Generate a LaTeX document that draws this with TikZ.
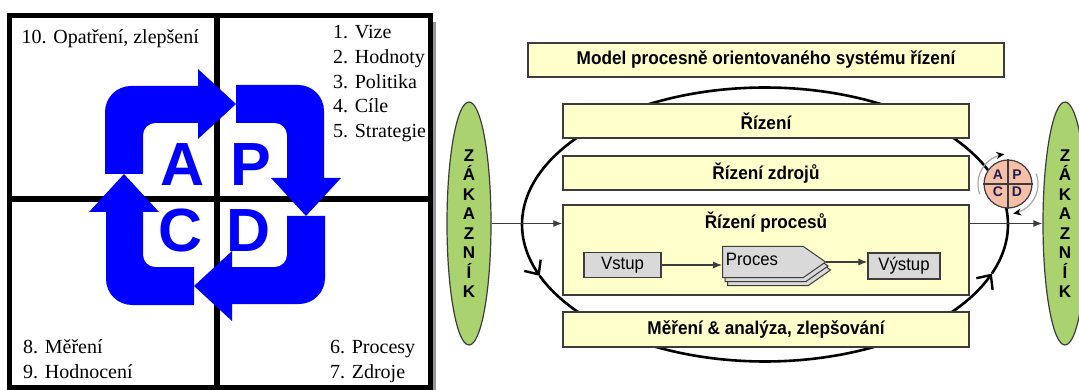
\documentclass[tikz,border=0pt]{standalone}
\usepackage{fontspec}
\setmainfont{Liberation Serif}
\newfontfamily\sansf{Liberation Sans}
\newfontfamily\narf[FakeStretch=0.93]{Liberation Sans}
\usetikzlibrary{arrows.meta,shapes.geometric,shapes.symbols,shadows}
\definecolor{pblue}{RGB}{0,0,255}
\definecolor{boxyel}{RGB}{255,255,204}
\definecolor{zgreen}{RGB}{170,210,110}
\definecolor{edgegray}{RGB}{60,60,60}
\definecolor{apcdfill}{RGB}{246,192,168}
\definecolor{navy}{RGB}{30,30,80}
\definecolor{procgray}{RGB}{217,217,217}
\definecolor{shadowgray}{RGB}{150,150,150}
\tikzset{
  lefttxt/.style={anchor=base west,inner sep=0pt,font=\fontsize{20}{24}\selectfont},
  bigletter/.style={inner sep=0pt,text=pblue,font=\sansf\bfseries\fontsize{61}{61}\selectfont},
  ybox/.style={draw=edgegray,line width=1.5pt,fill=boxyel,minimum width=406pt,inner sep=0pt,
     font=\narf\bfseries\fontsize{18.5}{20}\selectfont},
  gbox/.style={draw=edgegray,line width=1.3pt,fill=procgray,inner sep=0pt,
     font=\narf\fontsize{18}{20}\selectfont},
  zak/.style={ellipse,draw=edgegray,line width=1.2pt,fill=zgreen,minimum width=44pt,minimum height=243pt,
     inner sep=0pt,align=center,font=\sansf\bfseries\fontsize{17}{19.5}\selectfont},
  conn/.style={line width=1.2pt,draw=edgegray,-{Latex[length=9pt,width=7pt]}},
  cyc/.style={line width=2.6pt,black,-{Straight Barb[length=11pt,width=20pt,line width=2.4pt]}},
  apcdletter/.style={inner sep=0pt,text=navy,font=\sansf\bfseries\fontsize{14}{14}\selectfont},
  turn/.style={line width=1.2pt,draw=gray!70,-{Stealth[length=8pt,width=7pt,black]}}
}
\begin{document}
\begin{tikzpicture}[x=1pt,y=-1pt]
\useasboundingbox (0,0) rectangle (1079,390);
% ---------- left panel ----------
\fill[shadowgray] (16,22) rectangle (436,396);
\draw[line width=5pt,fill=white] (9.5,15.5) rectangle (430,387.5);
\draw[line width=6pt] (216.5,15.5) -- (216.5,387.5);
\draw[line width=6pt] (9.5,199.5) -- (430,199.5);
\begin{scope}[shift={(215,195)}]
\foreach \r in {0,-90,-180,-270}{
  \fill[pblue,rotate=\r] (-110,-21) -- (-110,-83) .. controls (-110,-97.4) and (-98.4,-109) .. (-84,-109)
    -- (-17,-109) -- (-17,-126) -- (21,-91) -- (-17,-56) -- (-17,-72) -- (-60,-72)
    .. controls (-66.6,-72) and (-72,-66.6) .. (-72,-60) -- (-72,-21) -- cycle;
}
\end{scope}
\node[bigletter] (bA) at (183,165) {A};
\node[bigletter] (bP) at (251,165) {P};
\node[bigletter] (bC) at (181,231) {C};
\node[bigletter] (bD) at (249,231) {D};
\node[lefttxt] (t10) at (21.5,43.5) {10. Opatření, zlepšení};
\node[lefttxt] (t1) at (333,39) {1. Vize};
\node[lefttxt] (t2) at (333,63.6) {2. Hodnoty};
\node[lefttxt] (t3) at (333,88.2) {3. Politika};
\node[lefttxt] (t4) at (333,112.8) {4. Cíle};
\node[lefttxt] (t5) at (333,137.4) {5. Strategie};
\node[lefttxt] (t8) at (23,353) {8. Měření};
\node[lefttxt] (t9) at (23,378) {9. Hodnocení};
\node[lefttxt] (t6) at (330,353) {6. Procesy};
\node[lefttxt] (t7) at (330,378) {7. Zdroje};
% ---------- right panel ----------
\draw[cyc] plot[domain=-21:202,samples=140] ({765+243*cos(\x)},{224.5-137*sin(\x)});
\draw[cyc] plot[domain=202:339,samples=90] ({765+243*cos(\x)},{224.5-137*sin(\x)});
\node[ybox,minimum width=476pt,minimum height=34pt] (title) at (766,60) {Model procesně orientovaného systému řízení};
\node[ybox,minimum height=34pt] (riz1) at (766,121) {Řízení};
\node[ybox,minimum height=34pt] (riz2) at (766,173) {Řízení zdrojů};
\node[ybox,minimum height=90pt] (riz3) at (766,250) {};
\node[ybox,draw=none,fill=none] (riz3t) at (766,222) {Řízení procesů};
\node[ybox,minimum height=35pt] (riz4) at (766,329.5) {Měření \& analýza, zlepšování};
\node[gbox,minimum width=77pt,minimum height=25pt] (vstup) at (622.5,265) {Vstup};
\node[gbox,minimum width=72pt,minimum height=26pt] (vystup) at (904,266) {Výstup};
\node[signal,signal to=east,signal pointer angle=70,draw=edgegray,line width=1pt,fill=procgray,
  minimum width=103pt,minimum height=31pt,inner sep=0pt,
  double copy shadow={shadow xshift=2.5pt,shadow yshift=-4pt,draw=edgegray,fill=procgray,line width=1pt}]
  (proc) at (763,262) {};
\node[gbox,draw=none,fill=none] (proct) at (752,259) {Proces};
\draw[conn] (vstup.east) -- (vstup.east -| proc.west);
\draw[conn] (proc.east) -- (proc.east -| vystup.west);
\node[zak] (lz) at (469,223.5) {Z\\Á\\K\\A\\Z\\N\\Í\\K};
\node[zak] (rz) at (1065,223.5) {Z\\Á\\K\\A\\Z\\N\\Í\\K};
\draw[conn] (lz.east) -- (lz.east -| riz3.west);
\draw[conn] (riz3.east |- rz.west) -- (rz.west);
% APCD circle
\draw[turn] plot[domain=200:97,samples=40] ({1008+30*cos(\x)},{184-30*sin(\x)});
\draw[turn] plot[domain=20:-80,samples=40] ({1008+30*cos(\x)},{184-30*sin(\x)});
\node[circle,draw=edgegray,line width=1.2pt,fill=apcdfill,minimum size=48pt,inner sep=0pt] (apcd) at (1008,184) {};
\draw[edgegray,line width=1.2pt] (apcd.north) -- (apcd.south);
\draw[edgegray,line width=1.2pt] (apcd.west) -- (apcd.east);
\node[apcdletter] (sA) at (998,175) {A};
\node[apcdletter] (sP) at (1017,175) {P};
\node[apcdletter] (sC) at (998,192) {C};
\node[apcdletter] (sD) at (1017,192) {D};
\end{tikzpicture}
\end{document}
